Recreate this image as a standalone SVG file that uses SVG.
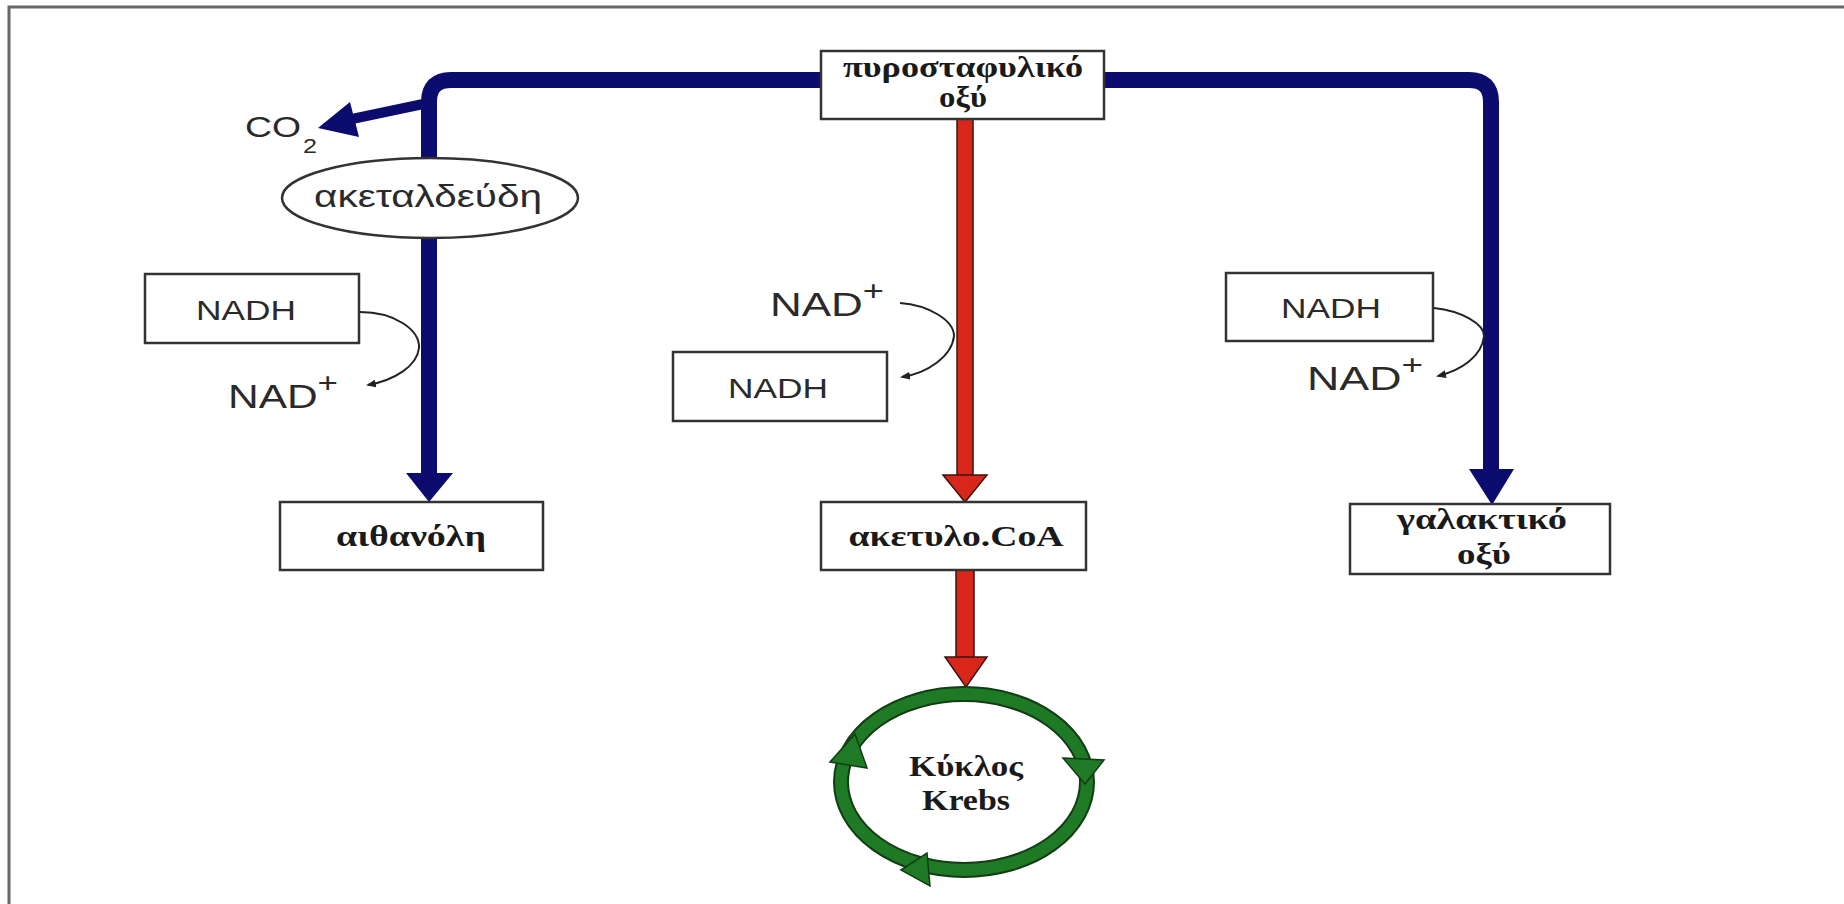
<svg xmlns="http://www.w3.org/2000/svg" width="1844" height="904" viewBox="0 0 1844 904">
<defs>
<marker id="sm" markerWidth="10" markerHeight="8" refX="8" refY="4" orient="auto" markerUnits="userSpaceOnUse">
<path d="M0,0 L10,4 L0,8 Z" fill="#222"/>
</marker>
<style>
.box{fill:#fff;stroke:#333;stroke-width:2.5}
.lbl{font-family:"Liberation Serif","DejaVu Serif",serif;font-weight:bold;font-size:30px;fill:#1a1a1a;text-anchor:middle}
.sans{font-family:"Liberation Sans","DejaVu Sans",sans-serif;fill:#2a2a2a}
.nadh{font-size:27px;text-anchor:middle}
.nad{font-size:34px}
.blue{fill:none;stroke:#0c0c6e;stroke-width:16}
.bluef{fill:#0c0c6e}
.red{fill:#d8261a;stroke:#3a1410;stroke-width:1.5}
.thin{fill:none;stroke:#222;stroke-width:2;marker-end:url(#sm)}
.grn{fill:#1f7a26;stroke:#123d14;stroke-width:1.5}
</style>
</defs>
<rect width="1844" height="904" fill="#fff"/>
<path d="M9,904 L9,7 L1844,7" fill="none" stroke="#666" stroke-width="3"/>

<g id="connectors">
<path class="blue" d="M429,475 L429,102 Q429,80 451,80 L822,80"/>
<path class="blue" d="M1104,80 L1469,80 Q1491,80 1491,102 L1491,472"/>
<polygon class="bluef" points="406,473 453,473 429,502"/>
<polygon class="bluef" points="1469,469 1514,469 1492,505"/>
<path d="M428,103 L352,119" fill="none" stroke="#0c0c6e" stroke-width="10"/>
<polygon class="bluef" points="318,128 350,102 359,137"/>
<rect class="red" x="957" y="118" width="16" height="358"/>
<polygon class="red" points="943,475 987,475 965,502"/>
<rect class="red" x="956" y="570" width="18" height="88"/>
<polygon class="red" points="945,657 987,657 966,687"/>
<path class="thin" d="M360,312 C395,312 420,330 419,348 C417,366 395,380 368,385"/>
<path class="thin" d="M900,303 C928,305 954,320 954,336 C952,356 928,373 902,377"/>
<path class="thin" d="M1434,308 C1462,311 1484,324 1484,336 C1482,356 1462,370 1438,376"/>
</g>

<g id="pyruvate">
<rect class="box" x="821" y="51" width="283" height="68"/>
<text class="lbl" x="963" y="77" font-size="25" textLength="240" lengthAdjust="spacingAndGlyphs">πυροσταφυλικό</text>
<text class="lbl" x="963" y="107" font-size="25" textLength="48" lengthAdjust="spacingAndGlyphs">οξύ</text>
</g>

<g id="co2">
<text class="sans" x="245" y="137" font-size="29" textLength="56" lengthAdjust="spacingAndGlyphs">CO</text>
<text class="sans" x="303" y="153" font-size="21" textLength="14" lengthAdjust="spacingAndGlyphs">2</text>
</g>

<g id="acetaldehyde">
<ellipse cx="430" cy="198" rx="148" ry="40" fill="#fff" stroke="#333" stroke-width="2.5"/>
<text class="sans" x="428" y="207" font-size="31" text-anchor="middle" textLength="228" lengthAdjust="spacingAndGlyphs">ακεταλδεύδη</text>
</g>

<g id="nadh-left">
<rect class="box" x="145" y="274" width="214" height="69"/>
<text class="sans nadh" x="246" y="320" textLength="100" lengthAdjust="spacingAndGlyphs">NADH</text>
</g>
<g id="nad-left">
<text class="sans nad" x="228" y="408" textLength="110" lengthAdjust="spacingAndGlyphs">NAD<tspan dy="-16" font-size="28">+</tspan></text>
</g>

<g id="nad-mid">
<text class="sans nad" x="770" y="316" textLength="114" lengthAdjust="spacingAndGlyphs">NAD<tspan dy="-16" font-size="28">+</tspan></text>
</g>
<g id="nadh-mid">
<rect class="box" x="673" y="352" width="214" height="69"/>
<text class="sans nadh" x="778" y="398" textLength="100" lengthAdjust="spacingAndGlyphs">NADH</text>
</g>

<g id="nadh-right">
<rect class="box" x="1226" y="273" width="207" height="68"/>
<text class="sans nadh" x="1331" y="318" textLength="100" lengthAdjust="spacingAndGlyphs">NADH</text>
</g>
<g id="nad-right">
<text class="sans nad" x="1307" y="390" textLength="116" lengthAdjust="spacingAndGlyphs">NAD<tspan dy="-16" font-size="28">+</tspan></text>
</g>

<g id="ethanol">
<rect class="box" x="280" y="502" width="263" height="68"/>
<text class="lbl" x="411" y="546" textLength="150" lengthAdjust="spacingAndGlyphs">αιθανόλη</text>
</g>

<g id="acetylcoa">
<rect class="box" x="821" y="502" width="265" height="68"/>
<text class="lbl" x="956" y="546" textLength="215" lengthAdjust="spacingAndGlyphs">ακετυλο.CoA</text>
</g>

<g id="lactate">
<rect class="box" x="1350" y="504" width="260" height="70"/>
<text class="lbl" x="1482" y="529" font-size="28" textLength="170" lengthAdjust="spacingAndGlyphs">γαλακτικό</text>
<text class="lbl" x="1484" y="564" font-size="28" textLength="54" lengthAdjust="spacingAndGlyphs">οξύ</text>
</g>

<g id="krebs">
<ellipse cx="964" cy="782" rx="123" ry="88" fill="none" stroke="#123d14" stroke-width="16"/>
<ellipse cx="964" cy="782" rx="123" ry="88" fill="none" stroke="#1f7a26" stroke-width="12"/>
<polygon class="grn" points="1063,758 1104,760 1085,784"/>
<polygon class="grn" points="830,762 867,768 855,734"/>
<polygon class="grn" points="901,870 927,853 930,886"/>
<text class="lbl" x="966" y="776" textLength="114" lengthAdjust="spacingAndGlyphs">Κύκλος</text>
<text class="lbl" x="966" y="810" textLength="88" lengthAdjust="spacingAndGlyphs">Krebs</text>
</g>
</svg>
